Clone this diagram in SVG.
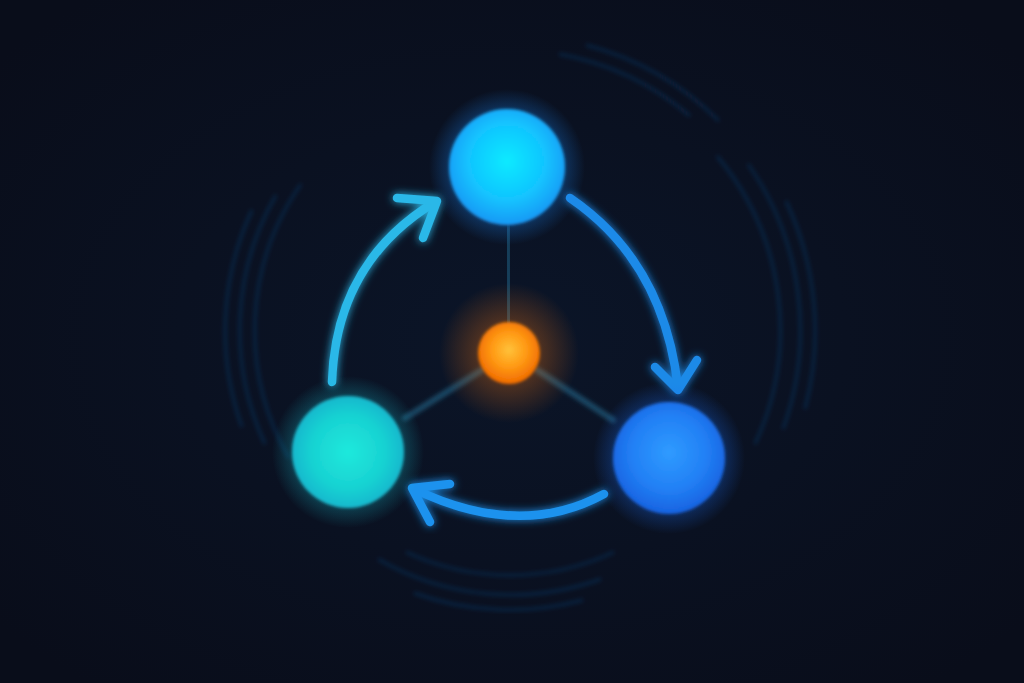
<svg xmlns="http://www.w3.org/2000/svg" width="1024" height="683" viewBox="0 0 1024 683">
  <style>
    .ripple { fill: none; stroke: #1f66b8; stroke-width: 3; stroke-opacity: 0.24; filter: url(#soft); }
    .spoke { fill: none; stroke: #2b7ea6; stroke-width: 6; stroke-opacity: 0.5; stroke-linecap: round; filter: url(#soft); }
    .arrow { fill: none; stroke-width: 8.5; stroke-linecap: round; stroke-linejoin: round; filter: url(#glow); }
  </style>
  <defs>
    <radialGradient id="bg" cx="50%" cy="50%" r="65%">
      <stop offset="0" stop-color="#0b1528"/>
      <stop offset="1" stop-color="#090d1a"/>
    </radialGradient>
    <radialGradient id="gTop" cx="50%" cy="45%" r="55%">
      <stop offset="0" stop-color="#08eaff"/>
      <stop offset="0.6" stop-color="#12c4ff"/>
      <stop offset="1" stop-color="#1a98f5"/>
    </radialGradient>
    <radialGradient id="gLeft" cx="50%" cy="50%" r="55%">
      <stop offset="0" stop-color="#1ee9dc"/>
      <stop offset="0.6" stop-color="#18d2d2"/>
      <stop offset="1" stop-color="#19b0cc"/>
    </radialGradient>
    <radialGradient id="gRight" cx="50%" cy="45%" r="55%">
      <stop offset="0" stop-color="#2f9bff"/>
      <stop offset="0.6" stop-color="#2280f5"/>
      <stop offset="1" stop-color="#1762e0"/>
    </radialGradient>
    <radialGradient id="gCenter" cx="50%" cy="45%" r="55%">
      <stop offset="0" stop-color="#ffc23a"/>
      <stop offset="0.5" stop-color="#ff9a14"/>
      <stop offset="1" stop-color="#f06a00"/>
    </radialGradient>
    <radialGradient id="haloBlue">
      <stop offset="0.55" stop-color="#1a8cff" stop-opacity="0.45"/>
      <stop offset="1" stop-color="#1a8cff" stop-opacity="0"/>
    </radialGradient>
    <radialGradient id="haloTeal">
      <stop offset="0.55" stop-color="#18c8d8" stop-opacity="0.4"/>
      <stop offset="1" stop-color="#18c8d8" stop-opacity="0"/>
    </radialGradient>
    <radialGradient id="haloDeep">
      <stop offset="0.55" stop-color="#1a6cf0" stop-opacity="0.45"/>
      <stop offset="1" stop-color="#1a6cf0" stop-opacity="0"/>
    </radialGradient>
    <radialGradient id="haloOrange">
      <stop offset="0.3" stop-color="#ff7a10" stop-opacity="0.35"/>
      <stop offset="1" stop-color="#ff7a10" stop-opacity="0"/>
    </radialGradient>
    <filter id="glow" x="-30%" y="-30%" width="160%" height="160%">
      <feGaussianBlur in="SourceGraphic" stdDeviation="4" result="b"/>
      <feMerge><feMergeNode in="b"/><feMergeNode in="SourceGraphic"/></feMerge>
    </filter>
    <filter id="soft" x="-20%" y="-20%" width="140%" height="140%">
      <feGaussianBlur stdDeviation="2"/>
    </filter>
    <filter id="edge" x="-20%" y="-20%" width="140%" height="140%">
      <feGaussianBlur stdDeviation="1.5"/>
    </filter>
  </defs>

  <rect width="1024" height="683" fill="url(#bg)"/>

  <g id="ripples">
    <path class="ripple" d="M301,184 A255,255 0 0 0 289,458"/>
    <path class="ripple" d="M276,195 A270,270 0 0 0 265,444"/>
    <path class="ripple" d="M252,210 A285,285 0 0 0 242,427"/>
    <path class="ripple" d="M717,156 A270,270 0 0 1 755,444"/>
    <path class="ripple" d="M748,164 A290,290 0 0 1 783,429"/>
    <path class="ripple" d="M786,201 A305,305 0 0 1 805,409"/>
    <path class="ripple" d="M559,54 A280,280 0 0 1 690,116"/>
    <path class="ripple" d="M586,45 A295,295 0 0 1 719,121"/>
    <path class="ripple" d="M614,552 A245,245 0 0 1 406,552"/>
    <path class="ripple" d="M601,579 A265,265 0 0 1 378,559"/>
    <path class="ripple" d="M583,600 A280,280 0 0 1 414,593"/>
  </g>

  <g id="connectors">
    <path class="spoke" d="M509,322 L508,228"/>
    <path class="spoke" d="M482,370 L405,418"/>
    <path class="spoke" d="M537,370 L613,420"/>
    <g id="arrow-left" class="arrow" stroke="#2bb8e8">
      <path d="M332,382 Q336,262 435,202"/>
      <path d="M397,198 L437,201 L423,238"/>
    </g>
    <g id="arrow-right" class="arrow" stroke="#1f8ae8">
      <path d="M570,198 Q664,262 678,388"/>
      <path d="M655,367 L678,390 L697,360"/>
    </g>
    <g id="arrow-bottom" class="arrow" stroke="#1e92ee">
      <path d="M604,494 Q520,540 414,489"/>
      <path d="M450,484 L412,488 L430,522"/>
    </g>
  </g>

  <g id="node-center">
    <circle cx="509" cy="353" r="70" fill="url(#haloOrange)"/>
    <circle cx="509" cy="353" r="31" fill="url(#gCenter)" filter="url(#edge)"/>
  </g>
  <g id="node-top">
    <circle cx="507" cy="167" r="78" fill="url(#haloBlue)"/>
    <circle cx="507" cy="167" r="58" fill="url(#gTop)" filter="url(#edge)"/>
  </g>
  <g id="node-left">
    <circle cx="348" cy="452" r="76" fill="url(#haloTeal)"/>
    <circle cx="348" cy="452" r="56" fill="url(#gLeft)" filter="url(#edge)"/>
  </g>
  <g id="node-right">
    <circle cx="669" cy="458" r="76" fill="url(#haloDeep)"/>
    <circle cx="669" cy="458" r="56" fill="url(#gRight)" filter="url(#edge)"/>
  </g>
</svg>
